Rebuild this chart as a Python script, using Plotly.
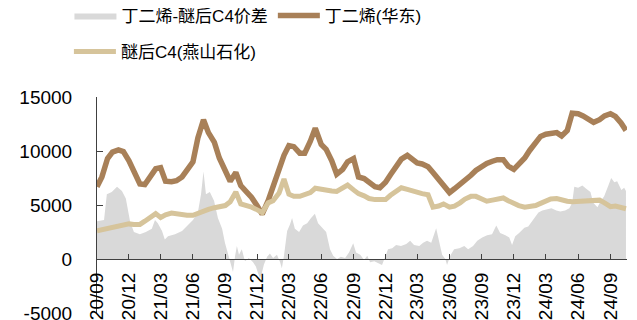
import pandas as pd
import plotly.graph_objects as go

dates = pd.date_range("2020-09-01", periods=100, freq="SMS")

butadiene = [
    6700, 7600, 9300, 9900, 10100, 9950, 9100, 8050, 6950, 6900,
    7650, 8350, 8450, 7200, 7150, 7250, 7600, 8300, 9000, 11200,
    12900, 11700, 10800, 9350, 8050, 7200, 8000, 6800, 6200, 5700,
    4900, 4150, 5400, 6700, 8150, 9600, 10500, 10400, 9800, 9800,
    10900, 12100, 10600, 10150, 9100, 7850, 8300, 9000, 9300, 7600,
    7450, 7100, 6700, 6600, 7100, 7800, 8700, 9250, 9600, 9200,
    8900, 8800, 8550, 8000, 7400, 6800, 6150, 6500, 6900, 7300,
    7750, 8200, 8600, 8850, 9050, 9200, 9200, 8600, 8300, 8750,
    9350, 10050, 10750, 11350, 11550, 11600, 11700, 11400, 11900, 13500,
    13450, 13250, 12950, 12650, 12900, 13250, 13450, 13200, 12600, 11900,
]

c4 = [
    2600, 2700, 2800, 2900, 3000, 3150, 3250, 3200, 3200, 3500,
    3900, 4200, 3850, 4100, 4250, 4150, 4100, 4050, 4050, 4250,
    4450, 4600, 4750, 4800, 4950, 5300, 6200, 5100, 5000, 4800,
    4550, 4300, 5200, 5400, 6100, 7400, 6000, 5800, 5800, 5950,
    6150, 6550, 6500, 6350, 6300, 6250, 6600, 6850, 6400, 6050,
    5850, 5600, 5500, 5500, 5500, 5900, 6300, 6600, 6450, 6300,
    6150, 6050, 5950, 4800, 4900, 5100, 4800, 4900, 5200, 5550,
    5800, 5800, 5550, 5350, 5450, 5550, 5650, 5400, 5150, 4950,
    4800, 4850, 4950, 5150, 5350, 5550, 5600, 5450, 5350, 5300,
    5330, 5350, 5400, 5450, 5450, 5200, 4850, 4900, 4800, 4650,
]

spread_dates = [
    "2020-09-01", "2020-09-21", "2020-09-29", "2020-10-13", "2020-10-28",
    "2020-11-11", "2020-11-22", "2020-12-04", "2020-12-15", "2021-01-01",
    "2021-01-18", "2021-02-04", "2021-02-13", "2021-02-21", "2021-03-05",
    "2021-03-13", "2021-03-22", "2021-04-11", "2021-05-01", "2021-05-18",
    "2021-06-01", "2021-06-15", "2021-06-24", "2021-07-01", "2021-07-08",
    "2021-07-19", "2021-07-31", "2021-08-11", "2021-08-23", "2021-08-31",
    "2021-09-09", "2021-09-17", "2021-09-23", "2021-09-29", "2021-10-04",
    "2021-10-10", "2021-10-18", "2021-10-27", "2021-11-07", "2021-11-19",
    "2021-11-27", "2021-12-03", "2021-12-09", "2021-12-14", "2021-12-20",
    "2021-12-29", "2022-01-06", "2022-01-15", "2022-01-26", "2022-02-04",
    "2022-02-09", "2022-02-15", "2022-02-24", "2022-03-04", "2022-03-10",
    "2022-03-18", "2022-03-30", "2022-04-10", "2022-04-22", "2022-05-03",
    "2022-05-14", "2022-05-23", "2022-06-03", "2022-06-15", "2022-06-26",
    "2022-07-05", "2022-07-16", "2022-07-27", "2022-08-08", "2022-08-19",
    "2022-08-31", "2022-09-08", "2022-09-20", "2022-10-01", "2022-10-10",
    "2022-10-18", "2022-10-30", "2022-11-10", "2022-11-21", "2022-11-30",
    "2022-12-08", "2022-12-20", "2022-12-31", "2023-01-14", "2023-01-29",
    "2023-02-09", "2023-02-20", "2023-03-07", "2023-03-18", "2023-03-29",
    "2023-04-10", "2023-04-24", "2023-05-03", "2023-05-11", "2023-05-20",
    "2023-05-25", "2023-06-03", "2023-06-14", "2023-06-29", "2023-07-13",
    "2023-07-24", "2023-08-07", "2023-08-19", "2023-09-02", "2023-09-16",
    "2023-09-30", "2023-10-12", "2023-10-23", "2023-11-07", "2023-11-18",
    "2023-11-26", "2023-12-05", "2023-12-16", "2023-12-31", "2024-01-11",
    "2024-01-22", "2024-01-31", "2024-02-09", "2024-02-20", "2024-03-05",
    "2024-03-17", "2024-03-31", "2024-04-11", "2024-04-25", "2024-05-07",
    "2024-05-15", "2024-05-21", "2024-06-01", "2024-06-13", "2024-06-24",
    "2024-07-06", "2024-07-14", "2024-07-26", "2024-08-03", "2024-08-14",
    "2024-08-26", "2024-09-03", "2024-09-12", "2024-09-20", "2024-10-02",
    "2024-10-10", "2024-10-15",
]

spread = [
    3500, 3600, 6000, 6200, 6700,
    6300, 5600, 3500, 2500, 2300,
    2500, 2800, 3600, 3300, 2600,
    1800, 2100, 2300, 2600, 3100,
    3600, 4300, 6000, 8100, 6000,
    6200, 5400, 3800, 2800, 1500,
    400, -600, -1200, 300, 1200,
    400, 900, -200, 100, -300,
    -700, -1300, -1800, -1300, -500,
    200, 500, 100, 400, -300,
    -860, 300, 2600, 3200, 3800,
    2800, 2500, 3100, 3300, 3800,
    4200, 3300, 2900, 2500, 900,
    300, 0, 200, 100, 600,
    1450, 600, 400, -100, 300,
    -300, -200, -400, -550, 200,
    900, 1000, 1300, 1200, 1400,
    1700, 1300, 1200, 1500, 1700,
    1500, 2850, 1600, 400, 0,
    -550, 300, 900, 1000, 1200,
    900, 1200, 1700, 2000, 2200,
    2300, 3100, 2400, 2200, 2000,
    1300, 2100, 2400, 2900, 3000,
    3500, 4000, 4300, 4500, 4600,
    4700, 4500, 4400, 4500, 4700,
    5200, 6700, 6600, 6800, 6500,
    6200, 5200, 4800, 5300, 5800,
    6800, 7500, 7100, 7200, 6400,
    6600, 6300,
]

y_ticks = [-5000, 0, 5000, 10000, 15000]
y_tick_text = ["-5000", "0", "5000", "10000", "15000"]

names = ["丁二烯-醚后C4价差", "丁二烯(华东)", "醚后C4(燕山石化)"]

font_family = "Liberation Sans, Arial, Noto Sans CJK SC, sans-serif"

fig = go.Figure()
fig.add_trace(go.Scatter(
    x=spread_dates, y=spread, name=names[0], mode="lines", fill="tozeroy",
    fillcolor="#D9D9D9", line=dict(width=0, color="#D9D9D9"), legend="legend",
))
fig.add_trace(go.Scatter(
    x=dates, y=butadiene, name=names[1], mode="lines",
    line=dict(width=5.5, color="#A88058"), legend="legend",
))
fig.add_trace(go.Scatter(
    x=dates, y=c4, name=names[2], mode="lines",
    line=dict(width=5, color="#D6C49B"), legend="legend2",
))

axis_color = "#404040"
fig.update_layout(
    width=629, height=312,
    margin=dict(l=89, r=10, t=89, b=7, autoexpand=False),
    paper_bgcolor="white", plot_bgcolor="white",
    font=dict(family=font_family, size=19, color="black"),
    showlegend=True,
    legend=dict(
        orientation="h", x=-0.052, xanchor="left", y=1.375, yanchor="middle",
        font=dict(size=17, family=font_family), itemwidth=42,
        bgcolor="rgba(0,0,0,0)", traceorder="normal",
    ),
    legend2=dict(
        orientation="h", x=-0.053, xanchor="left", y=1.208, yanchor="middle",
        font=dict(size=17, family=font_family), itemwidth=42,
        bgcolor="rgba(0,0,0,0)",
    ),
    xaxis=dict(
        type="date", range=["2020-09-01", "2024-10-18"],
        tick0="2020-09-01", dtick="M3", tickformat="%y/%m",
        tickangle=-90, ticks="inside", ticklen=5, tickcolor=axis_color,
        showline=True, linecolor=axis_color, linewidth=1,
        showgrid=False, zeroline=False,
        anchor="free", position=0.25, ticklabelstandoff=5,
        ticklabeloverflow="allow",
        tickfont=dict(size=19, family=font_family, color="black"),
    ),
    yaxis=dict(
        range=[-5000, 15000], tickvals=y_ticks, ticktext=y_tick_text,
        ticks="inside", ticklen=6, tickcolor=axis_color,
        showline=True, linecolor=axis_color, linewidth=1,
        showgrid=False, zeroline=False, ticklabelstandoff=20,
        ticklabeloverflow="allow",
        tickfont=dict(size=19, family=font_family, color="black"),
    ),
)

fig.write_html("out.html")
